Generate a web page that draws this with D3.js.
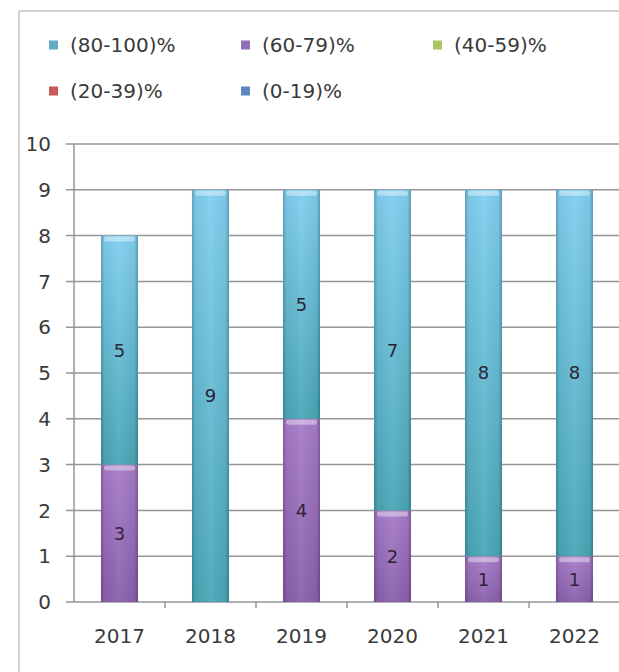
<!DOCTYPE html>
<html>
<head>
<meta charset="utf-8">
<script src="https://cdn.jsdelivr.net/npm/d3@7"></script>
<style>
  html, body { margin: 0; padding: 0; background: #fff; }
  svg { display: block; }
  text { font-family: "DejaVu Sans", Verdana, sans-serif; }
</style>
</head>
<body>
<svg id="chart" width="619" height="672"></svg>
<script>
// ---- data ----
const years = ["2017", "2018", "2019", "2020", "2021", "2022"];
const seriesNames = ["(80-100)%", "(60-79)%", "(40-59)%", "(20-39)%", "(0-19)%"];
const s80_100 = [5, 9, 5, 7, 8, 8];
const s60_79  = [3, 0, 4, 2, 1, 1];
const s40_59  = [0, 0, 0, 0, 0, 0];
const s20_39  = [0, 0, 0, 0, 0, 0];
const s0_19   = [0, 0, 0, 0, 0, 0];
const yTicks = [0, 1, 2, 3, 4, 5, 6, 7, 8, 9, 10];

// [top colour, bottom colour]
const seriesColors = {
  "(80-100)%": ["#80cff0", "#4aa6b6"],
  "(60-79)%":  ["#a77cc8", "#8a60ad"],
  "(40-59)%":  ["#b5d270", "#8fab4e"],
  "(20-39)%":  ["#d36a66", "#b24945"],
  "(0-19)%":   ["#6f9ad3", "#4874ad"]
};
const legendColors = {
  "(80-100)%": "#62abc6",
  "(60-79)%": "#9170b8",
  "(40-59)%": "#a9c460",
  "(20-39)%": "#c85a56",
  "(0-19)%": "#5c87c2"
};

// stacking order bottom -> top
const stackOrder = ["(0-19)%", "(20-39)%", "(40-59)%", "(60-79)%", "(80-100)%"];
const valuesBySeries = {
  "(80-100)%": s80_100, "(60-79)%": s60_79, "(40-59)%": s40_59,
  "(20-39)%": s20_39, "(0-19)%": s0_19
};
const rows = years.map((y, i) => {
  const r = { year: y };
  stackOrder.forEach(k => r[k] = valuesBySeries[k][i]);
  return r;
});

const svg = d3.select("#chart");
const defs = svg.append("defs");

// vertical gradients per series
stackOrder.forEach((k, i) => {
  const g = defs.append("linearGradient").attr("id", "g" + i)
    .attr("x1", "0%").attr("x2", "0%").attr("y1", "0%").attr("y2", "100%");
  const c = seriesColors[k];
  g.append("stop").attr("offset", "0%").attr("stop-color", c[0]);
  g.append("stop").attr("offset", "100%").attr("stop-color", c[1]);
});
// horizontal edge shading
const hg = defs.append("linearGradient").attr("id", "hshade")
  .attr("x1", "0%").attr("x2", "100%").attr("y1", "0%").attr("y2", "0%");
hg.append("stop").attr("offset", "0%").attr("stop-color", "#000").attr("stop-opacity", 0.22);
hg.append("stop").attr("offset", "10%").attr("stop-color", "#000").attr("stop-opacity", 0.04);
hg.append("stop").attr("offset", "50%").attr("stop-color", "#fff").attr("stop-opacity", 0.06);
hg.append("stop").attr("offset", "90%").attr("stop-color", "#000").attr("stop-opacity", 0.04);
hg.append("stop").attr("offset", "100%").attr("stop-color", "#000").attr("stop-opacity", 0.25);

// outer frame
svg.append("rect").attr("x", 19).attr("y", 11).attr("width", 640).attr("height", 700)
  .attr("fill", "none").attr("stroke", "#c4c4c4").attr("stroke-width", 1.5);

// scales
const x = d3.scaleBand().domain(years).range([74, 620]).paddingInner(0.593).paddingOuter(0.2965);
const y = d3.scaleLinear().domain([0, 10]).range([602, 144]);

// gridlines
svg.append("g").selectAll("line").data(yTicks).join("line")
  .attr("x1", 66).attr("x2", 619)
  .attr("y1", d => y(d)).attr("y2", d => y(d))
  .attr("stroke", "#969696").attr("stroke-width", 1.5);

// y axis line
svg.append("line").attr("x1", 74).attr("x2", 74).attr("y1", y(10)).attr("y2", y(0))
  .attr("stroke", "#969696").attr("stroke-width", 1.5);

// y tick labels
svg.append("g").selectAll("text").data(yTicks).join("text")
  .attr("x", 51).attr("y", d => y(d)).attr("dy", "0.36em")
  .attr("text-anchor", "end").attr("font-size", 20).attr("fill", "#3a3a3a")
  .text(d => d);

// x tick marks at band boundaries
const boundaries = years.map(yr => x(yr) - (x.step() - x.bandwidth()) / 2).concat([620]);
svg.append("g").selectAll("line").data(boundaries.slice(1, -1)).join("line")
  .attr("x1", d => d).attr("x2", d => d).attr("y1", y(0)).attr("y2", y(0) + 6)
  .attr("stroke", "#969696").attr("stroke-width", 1.5);

// x labels
svg.append("g").selectAll("text").data(years).join("text")
  .attr("x", d => x(d) + x.bandwidth() / 2).attr("y", 643)
  .attr("text-anchor", "middle").attr("font-size", 20).attr("fill", "#3a3a3a")
  .text(d => d);

// stacked bars
const stack = d3.stack().keys(stackOrder)(rows);
const layers = svg.append("g").selectAll("g").data(stack).join("g");
layers.each(function(layer, li) {
  const g = d3.select(this);
  const segs = layer.filter(d => d[1] - d[0] > 0);
  g.selectAll("rect.seg").data(segs).join("rect").attr("class", "seg")
    .attr("x", d => x(d.data.year)).attr("width", x.bandwidth())
    .attr("y", d => y(d[1])).attr("height", d => y(d[0]) - y(d[1]))
    .attr("fill", "url(#g" + li + ")");
  g.selectAll("rect.shade").data(segs).join("rect").attr("class", "shade")
    .attr("x", d => x(d.data.year)).attr("width", x.bandwidth())
    .attr("y", d => y(d[1])).attr("height", d => y(d[0]) - y(d[1]))
    .attr("fill", "url(#hshade)");
  // top highlight (bevel)
  g.selectAll("rect.hl").data(segs).join("rect").attr("class", "hl")
    .attr("x", d => x(d.data.year) + 3).attr("width", x.bandwidth() - 6)
    .attr("y", d => y(d[1]) + 1).attr("height", 5).attr("rx", 2.5)
    .attr("fill", "#ffffff").attr("opacity", 0.4);
});

// data labels
layers.each(function(layer) {
  const g = d3.select(this);
  const segs = layer.filter(d => d[1] - d[0] > 0);
  g.selectAll("text").data(segs).join("text")
    .attr("x", d => x(d.data.year) + x.bandwidth() / 2)
    .attr("y", d => y((d[0] + d[1]) / 2)).attr("dy", "0.36em")
    .attr("text-anchor", "middle").attr("font-size", 18).attr("fill", "#2c2438")
    .text(d => d[1] - d[0]);
});

// legend
const legendPos = [
  { x: 49, y: 45 }, { x: 241, y: 45 }, { x: 433, y: 45 },
  { x: 49, y: 91 }, { x: 241, y: 91 }
];
const leg = svg.append("g").selectAll("g").data(seriesNames).join("g")
  .attr("transform", (d, i) => `translate(${legendPos[i].x},${legendPos[i].y})`);
leg.append("rect").attr("x", 0).attr("y", -4.5).attr("width", 9).attr("height", 9)
  .attr("fill", d => legendColors[d]);
leg.append("text").attr("x", 21).attr("y", 0).attr("dy", "0.36em")
  .attr("font-size", 20).attr("fill", "#3a3a3a").text(d => d);
</script>
</body>
</html>
